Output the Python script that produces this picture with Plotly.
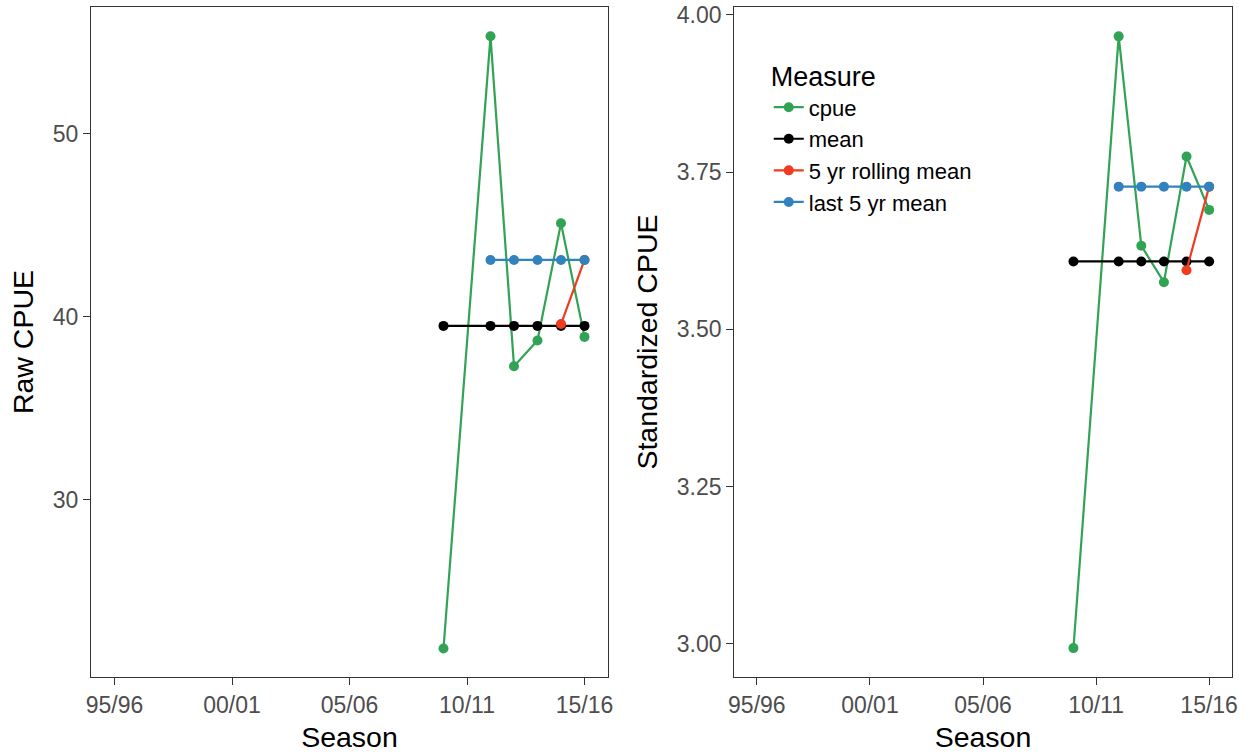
import plotly.graph_objects as go

# ---- data ----
tick_vals = [1995, 2000, 2005, 2010, 2015]
tick_text = ["95/96", "00/01", "05/06", "10/11", "15/16"]

cpue_years = [2009, 2011, 2012, 2013, 2014, 2015]
mean_years = [2009, 2011, 2012, 2013, 2014, 2015]
rolling_years = [2014, 2015]
last5_years = [2011, 2012, 2013, 2014, 2015]

raw_cpue = [21.9, 55.3, 37.3, 38.7, 45.1, 38.9]
raw_mean = [39.5, 39.5, 39.5, 39.5, 39.5, 39.5]
raw_rolling = [39.6, 43.1]
raw_last5 = [43.1, 43.1, 43.1, 43.1, 43.1]

std_cpue = [2.993, 3.966, 3.633, 3.575, 3.775, 3.690]
std_mean = [3.608, 3.608, 3.608, 3.608, 3.608, 3.608]
std_rolling = [3.594, 3.727]
std_last5 = [3.727, 3.727, 3.727, 3.727, 3.727]

measures = ["cpue", "mean", "5 yr rolling mean", "last 5 yr mean"]
colors = ["#31A354", "#000000", "#F03B20", "#3182BD"]

FONT = "Liberation Sans, Arial, sans-serif"

fig = go.Figure()

panels = [
    ("x", "y", [raw_cpue, raw_mean, raw_rolling, raw_last5], False),
    ("x2", "y2", [std_cpue, std_mean, std_rolling, std_last5], True),
]
years_list = [cpue_years, mean_years, rolling_years, last5_years]

for xa, ya, series, show in panels:
    for name, col, yrs, vals in zip(measures, colors, years_list, series):
        fig.add_trace(go.Scatter(
            x=yrs, y=vals, name=name, mode="lines+markers",
            line=dict(color=col, width=2.2),
            marker=dict(color=col, size=10),
            xaxis=xa, yaxis=ya, showlegend=show, legendgroup=name,
        ))

axis_common = dict(
    showgrid=False, zeroline=False, showline=True, mirror=True,
    linecolor="#333333", linewidth=1.3,
    ticks="outside", ticklen=7, tickwidth=1.3, tickcolor="#333333",
    tickfont=dict(family=FONT, size=23, color="#4D4D4D"),
    automargin=False,
)

xcommon = dict(axis_common, tickvals=tick_vals, ticktext=tick_text,
               range=[1994, 2016],
               title=dict(text="Season", font=dict(family=FONT, size=28.5, color="#000000"), standoff=10))

fig.update_layout(
    width=1250, height=754,
    margin=dict(l=0, r=0, t=0, b=0),
    paper_bgcolor="white", plot_bgcolor="white",
    font=dict(family=FONT),
    xaxis=dict(xcommon, domain=[0.0728, 0.4864], anchor="y"),
    xaxis2=dict(xcommon, domain=[0.5874, 0.9854], anchor="y2"),
    yaxis=dict(axis_common, domain=[0.1021, 0.9907], anchor="x",
               range=[20.34, 56.9], tickvals=[30, 40, 50],
               title=dict(text="Raw CPUE", font=dict(family=FONT, size=28.5, color="#000000"), standoff=10)),
    yaxis2=dict(axis_common, domain=[0.1021, 0.9907], anchor="x2",
                range=[2.947, 4.0127], tickvals=[3.0, 3.25, 3.5, 3.75, 4.0], tickformat=".2f",
                title=dict(text="Standardized CPUE", font=dict(family=FONT, size=28.5, color="#000000"), standoff=10)),
    legend=dict(
        x=0.615, y=0.932, xanchor="left", yanchor="top",
        bgcolor="rgba(0,0,0,0)",
        font=dict(family=FONT, size=22, color="#000000"),
        title=dict(text="Measure", font=dict(family=FONT, size=27, color="#000000")),
        tracegroupgap=0,
    ),
)

fig.write_html(
    "out.html",
    config={"displayModeBar": False},
    post_script="document.body.style.margin='0';document.body.style.overflow='hidden';window.dispatchEvent(new Event('resize'));",
)
